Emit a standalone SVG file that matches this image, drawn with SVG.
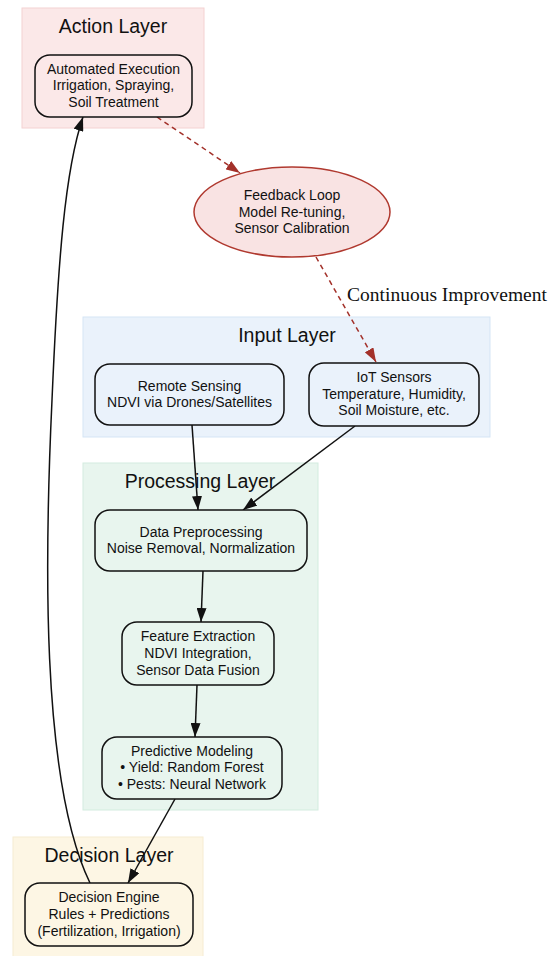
<svg xmlns="http://www.w3.org/2000/svg" width="558" height="956" viewBox="0 0 558 956">
<defs>
<style>
.t{font-family:"Liberation Sans",Arial,sans-serif;font-size:14px;fill:#111;text-anchor:middle}
.h{font-family:"Liberation Sans",Arial,sans-serif;font-size:19.5px;fill:#111;text-anchor:middle}
.n{stroke:#111;stroke-width:1.5}
.e{fill:none;stroke:#111;stroke-width:1.5}
.d{fill:none;stroke:#a3312a;stroke-width:1.5;stroke-dasharray:5,4}
</style>
<marker id="ab" viewBox="0 0 14 10" refX="14" refY="5" markerWidth="14" markerHeight="10" markerUnits="userSpaceOnUse" orient="auto"><path d="M0,0 L14,5 L0,10 z" fill="#111"/></marker>
<marker id="ar" viewBox="0 0 14 10" refX="14" refY="5" markerWidth="14" markerHeight="10" markerUnits="userSpaceOnUse" orient="auto"><path d="M0,0 L14,5 L0,10 z" fill="#a3312a"/></marker>
</defs>
<rect width="558" height="956" fill="#fff"/>
<g id="cluster-action">
<rect x="22" y="8" width="182" height="120" fill="#fbe8e8" stroke="#f4d2d2"/>
<text class="h" x="113" y="33">Action Layer</text>
</g>
<g id="cluster-input">
<rect x="83" y="317" width="407" height="120" fill="#eaf2fb" stroke="#d5e5f5"/>
<text class="h" x="287" y="342">Input Layer</text>
</g>
<g id="cluster-processing">
<rect x="83" y="463" width="235" height="347" fill="#e8f5ee" stroke="#d3ecdf"/>
<text class="h" x="200" y="488">Processing Layer</text>
</g>
<g id="cluster-decision">
<rect x="13" y="837" width="190" height="125" fill="#fdf6e4" stroke="#f6ecd2"/>
<text class="h" x="109" y="862">Decision Layer</text>
</g>
<g id="connectors">
<path class="d" d="M157,117 L240,173" marker-end="url(#ar)"/>
<path class="d" d="M316,257 L376,362" marker-end="url(#ar)"/>
<text x="447" y="301" font-family="'Liberation Serif','Times New Roman',serif" font-size="19.5" fill="#111" text-anchor="middle">Continuous Improvement</text>
<path class="e" d="M192,425 L198,510" marker-end="url(#ab)"/>
<path class="e" d="M355,426 L243,510" marker-end="url(#ab)"/>
<path class="e" d="M203,571 L201,622" marker-end="url(#ab)"/>
<path class="e" d="M197,685 L195,737" marker-end="url(#ab)"/>
<path class="e" d="M175,799 L128,883" marker-end="url(#ab)"/>
<path class="e" d="M90,883 C40,780 45,550 52,400 C58,260 65,170 83,117" marker-end="url(#ab)"/>
</g>
<g id="node-action">
<rect class="n" x="35" y="55" width="157" height="62" rx="15" fill="#fbe8e8"/>
<text class="t" x="113.5" y="74">Automated Execution</text>
<text class="t" x="113.5" y="90">Irrigation, Spraying,</text>
<text class="t" x="113.5" y="107">Soil Treatment</text>
</g>
<g id="node-feedback">
<ellipse cx="292" cy="212" rx="98" ry="45" fill="#f9e3e3" stroke="#b0392f" stroke-width="1.5"/>
<text class="t" x="292" y="200">Feedback Loop</text>
<text class="t" x="292" y="217">Model Re-tuning,</text>
<text class="t" x="292" y="233">Sensor Calibration</text>
</g>
<g id="node-remote">
<rect class="n" x="95" y="364" width="189" height="61" rx="15" fill="#eaf2fb"/>
<text class="t" x="189.5" y="391">Remote Sensing</text>
<text class="t" x="189.5" y="407">NDVI via Drones/Satellites</text>
</g>
<g id="node-iot">
<rect class="n" x="309" y="363" width="170" height="63" rx="15" fill="#eaf2fb"/>
<text class="t" x="394" y="382">IoT Sensors</text>
<text class="t" x="394" y="399">Temperature, Humidity,</text>
<text class="t" x="394" y="415">Soil Moisture, etc.</text>
</g>
<g id="node-preprocessing">
<rect class="n" x="95" y="510" width="212" height="61" rx="15" fill="#e8f5ee"/>
<text class="t" x="201" y="537">Data Preprocessing</text>
<text class="t" x="201" y="553">Noise Removal, Normalization</text>
</g>
<g id="node-feature">
<rect class="n" x="122" y="622" width="152" height="63" rx="15" fill="#e8f5ee"/>
<text class="t" x="198" y="641">Feature Extraction</text>
<text class="t" x="198" y="658">NDVI Integration,</text>
<text class="t" x="198" y="675">Sensor Data Fusion</text>
</g>
<g id="node-predictive">
<rect class="n" x="102" y="737" width="180" height="62" rx="15" fill="#e8f5ee"/>
<text class="t" x="192" y="756">Predictive Modeling</text>
<text class="t" x="192" y="772">• Yield: Random Forest</text>
<text class="t" x="192" y="789">• Pests: Neural Network</text>
</g>
<g id="node-decision">
<rect class="n" x="25" y="883" width="168" height="63" rx="15" fill="#fdf6e4"/>
<text class="t" x="109" y="902">Decision Engine</text>
<text class="t" x="109" y="919">Rules + Predictions</text>
<text class="t" x="109" y="936">(Fertilization, Irrigation)</text>
</g>
</svg>
